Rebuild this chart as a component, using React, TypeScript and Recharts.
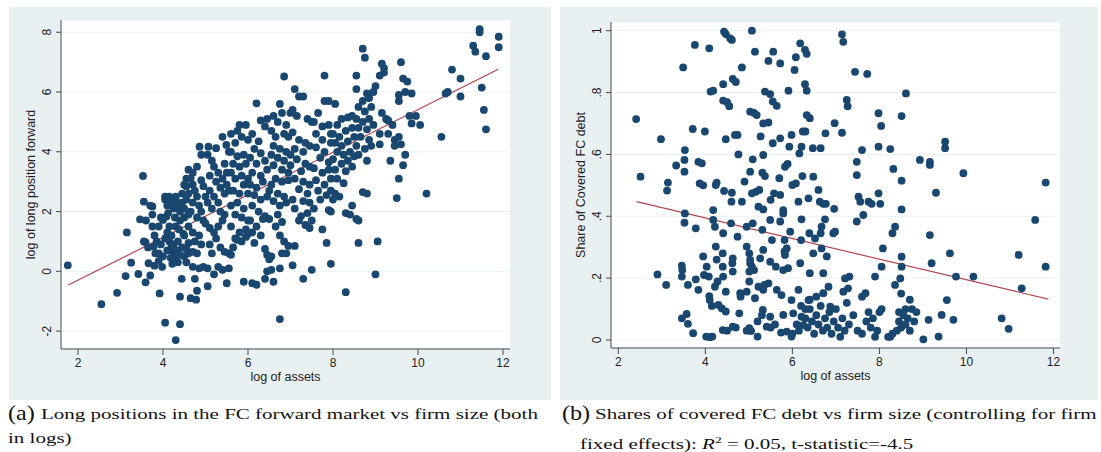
import React from 'react';
import { ScatterChart, Scatter, XAxis, YAxis, CartesianGrid, ReferenceLine } from 'recharts';

const assetsTicks = [2, 4, 6, 8, 10, 12];
const forwardTicks = [-2, 0, 2, 4, 6, 8];
const shareTicks = [0, 0.2, 0.4, 0.6, 0.8, 1];

const forwardPoints: [number, number][] = [
  [1.76,0.2],[2.55,-1.1],[2.92,-0.72],[3.15,1.3],[3.25,0.29],[3.12,-0.16],[3.42,-0.09],[3.53,3.19],[3.55,2.33],[3.46,1.74],[3.59,0.97],[3.59,-0.37],[3.66,0.27],[3.7,-0.14],[3.75,1.5],[3.75,2.17],[3.78,0.83],[3.82,0.6],[3.8,0.19],[3.92,-0.74],[4.05,-1.72],[4.3,-2.3],[4.4,-1.77],[4.4,-0.85],[4.44,-0.25],[3.98,0.15],[4.0,1.72],[4.08,1.83],
  [3.6,1.7],[3.7,2.2],[3.75,1.9],[3.8,1.2],[3.85,1.0],[3.9,1.5],[3.95,1.8],[3.9,0.35],[3.65,0.8],[3.55,1.0],
  [4.05,2.4],[4.1,2.2],[4.15,2.5],[4.2,2.3],[4.25,2.1],[4.3,2.4],[4.35,2.2],[4.4,2.0],[4.45,2.3],[4.5,2.1],[4.1,1.3],[4.15,1.0],[4.2,0.8],[4.25,0.6],[4.3,0.4],[4.35,0.3],[4.1,0.7],[4.0,0.5],[4.2,1.2],[4.3,1.5],[4.4,1.7],[4.5,1.8],[4.6,1.9],[4.35,1.0],[4.45,0.8],[4.5,0.5],[4.55,0.3],[4.4,0.55],[4.25,0.9],[4.15,1.5],[4.05,1.1],[3.95,0.9],[3.9,0.6],[4.6,0.6],[4.7,0.65],[4.05,2.5],[4.2,2.45],[4.3,2.5],[4.45,2.6],[4.5,2.9],[4.55,3.1],[4.12,1.95],[4.28,1.8],[4.38,1.4],[4.48,1.25],[4.22,0.25],[4.32,0.7],[4.18,0.45],
  [4.86,4.17],[4.6,3.4],[4.65,3.1],[4.7,2.9],[4.55,2.85],[4.6,2.6],[4.75,2.7],[4.8,2.5],[4.55,2.4],[4.7,2.3],[4.85,2.2],[4.9,2.0],[4.65,2.0],[4.8,1.8],[4.95,1.7],[4.6,1.5],[4.7,1.3],[4.85,1.2],[4.75,1.0],[4.9,0.9],[4.6,0.95],[4.8,0.6],[4.7,0.15],[4.85,0.1],[4.75,-0.25],[4.65,-0.9],[4.78,-0.95],[4.8,-0.65],[4.95,0.15],[4.5,1.2],[4.55,0.75],[4.9,3.05],[4.95,2.85],[5.0,2.5],[4.9,3.9],[4.8,3.5],[4.7,3.3],
  [5.07,4.17],[5.25,4.12],[5.4,4.5],[5.49,4.23],[5.05,3.9],[5.15,3.7],[5.2,3.5],[5.3,3.3],[5.1,3.2],[5.25,3.0],[5.4,3.1],[5.35,2.8],[5.1,2.7],[5.2,2.5],[5.3,2.3],[5.45,2.6],[5.05,2.3],[5.15,2.1],[5.35,2.0],[5.45,1.9],[5.0,1.6],[5.1,1.45],[5.2,1.3],[5.3,1.5],[5.4,1.7],[5.25,1.1],[5.1,0.9],[5.35,0.8],[5.15,0.6],[5.05,0.1],[5.3,0.15],[5.2,-0.1],[5.4,0.05],[5.45,0.65],[5.55,0.6],[5.5,-0.4],[5.05,-0.5],[5.5,2.9],[5.55,2.7],[5.5,3.3],[5.45,3.6],[5.55,4.0],
  [5.75,4.7],[5.8,4.9],[5.95,4.9],[5.6,4.6],[5.85,4.5],[5.7,4.3],[6.0,4.4],[5.6,4.0],[5.75,3.85],[5.9,3.9],[5.65,3.6],[5.8,3.5],[5.95,3.6],[5.6,3.3],[5.7,3.1],[5.85,3.2],[6.0,3.1],[5.9,2.9],[5.65,2.7],[5.8,2.6],[6.0,2.6],[5.6,2.2],[5.75,2.3],[5.9,2.1],[5.7,1.9],[5.85,1.8],[6.0,1.7],[5.6,1.5],[5.8,1.3],[5.95,1.4],[5.7,1.1],[5.85,1.0],[5.65,0.8],[5.6,0.55],[5.95,1.15],[5.9,-0.35],[6.1,-0.4],[5.55,0.1],[5.75,1.05],[6.0,1.25],
  [6.2,5.62],[6.1,4.6],[6.25,4.35],[6.4,4.85],[6.3,5.05],[6.45,5.1],[6.15,4.1],[6.3,3.95],[6.05,3.8],[6.2,3.6],[6.4,3.7],[6.1,3.3],[6.3,3.2],[6.45,3.4],[6.05,2.9],[6.2,2.8],[6.35,3.0],[6.5,2.7],[6.15,2.55],[6.3,2.4],[6.45,2.5],[6.1,2.2],[6.25,2.0],[6.4,1.85],[6.05,1.7],[6.2,1.5],[6.35,1.75],[6.1,1.3],[6.3,1.2],[6.5,1.75],[6.15,0.95],[6.4,0.75],[6.45,0.55],[6.5,0.4],[6.45,0.0],[6.55,0.05],[6.4,-0.25],[6.6,-0.35],[6.2,-0.45],
  [6.85,6.52],[6.75,5.6],[6.8,5.3],[6.6,5.2],[6.7,5.0],[6.9,4.9],[7.0,5.3],[6.55,4.7],[6.65,4.5],[6.85,4.6],[6.95,4.5],[6.6,4.2],[6.75,4.1],[6.9,4.0],[6.55,3.9],[6.7,3.8],[6.85,3.7],[7.0,3.9],[6.6,3.55],[6.8,3.4],[6.95,3.3],[6.65,3.1],[6.8,3.0],[6.95,3.05],[6.55,2.9],[6.7,2.6],[6.85,2.5],[6.6,2.35],[6.75,2.2],[6.9,2.3],[6.7,1.9],[6.8,1.65],[6.65,1.5],[6.75,1.2],[6.85,1.0],[6.95,0.85],[6.8,0.6],[6.9,0.6],[6.75,0.1],[6.75,-1.6],[7.05,0.2],[6.55,0.5],
  [7.1,6.1],[7.2,5.85],[7.3,5.85],[7.05,5.4],[7.15,5.2],[7.4,5.1],[7.5,5.0],[7.05,4.65],[7.2,4.4],[7.35,4.3],[7.1,4.1],[7.3,4.0],[7.45,4.2],[7.15,3.75],[7.35,3.6],[7.0,3.55],[7.25,3.35],[7.45,3.5],[7.1,3.1],[7.3,3.0],[7.45,2.9],[7.2,2.75],[7.4,2.6],[7.05,2.4],[7.3,2.35],[7.45,2.3],[7.1,2.1],[7.25,1.85],[7.4,1.95],[7.2,1.7],[7.35,1.55],[7.5,1.7],[7.45,1.45],[7.3,-0.25],[7.5,0.05],[7.1,0.85],
  [7.8,6.55],[7.8,5.7],[7.9,5.7],[7.65,5.3],[7.55,5.0],[7.75,4.85],[7.9,4.9],[7.6,4.6],[7.75,4.4],[7.95,4.6],[7.6,4.15],[7.8,4.0],[7.95,4.3],[7.7,3.8],[7.9,3.65],[7.55,3.45],[7.75,3.3],[7.9,3.4],[7.6,3.05],[7.8,2.9],[7.95,3.1],[7.65,2.7],[7.85,2.55],[7.7,2.4],[7.9,2.05],[7.95,2.0],[7.75,1.4],[7.85,0.95],[7.95,0.25],[7.55,2.1],[8.0,2.4],[7.95,2.7],
  [8.05,5.6],[8.1,4.9],[8.2,5.1],[8.35,5.15],[8.45,5.2],[8.0,4.6],[8.15,4.5],[8.3,4.7],[8.45,4.8],[8.05,4.3],[8.2,4.2],[8.35,4.35],[8.5,4.5],[8.1,4.0],[8.25,3.9],[8.4,4.0],[8.0,3.75],[8.2,3.6],[8.35,3.7],[8.5,3.85],[8.05,3.4],[8.3,3.35],[8.45,3.5],[8.1,3.1],[8.25,2.95],[8.05,2.6],[8.15,2.5],[8.45,2.2],[8.3,1.95],[8.4,1.9],[8.55,1.75],[8.6,1.7],[8.6,0.95],[8.3,-0.7],
  [8.7,7.45],[8.75,7.15],[8.55,6.55],[8.55,6.1],[8.7,5.7],[8.8,5.95],[8.85,5.8],[8.6,5.5],[8.75,5.35],[8.9,5.5],[8.55,5.1],[8.7,5.0],[8.85,5.1],[8.6,4.8],[8.8,4.75],[8.95,4.9],[8.65,4.5],[8.85,4.4],[8.55,4.2],[8.75,4.1],[8.9,4.2],[8.6,3.9],[8.8,3.7],[8.7,2.65],[8.8,2.6],[8.95,6.0],[9.0,6.2],
  [9.15,6.95],[9.2,6.8],[9.1,6.55],[9.2,6.65],[9.15,5.3],[9.3,5.05],[9.25,5.1],[9.4,4.9],[9.1,4.6],[9.1,4.25],[9.05,1.0],[9.0,-0.1],[9.3,4.6],[9.45,4.4],[9.45,4.2],[9.35,3.7],[9.5,2.45],
  [9.6,7.0],[9.65,6.45],[9.75,6.35],[9.55,5.9],[9.55,5.7],[9.7,6.0],[9.85,5.95],[9.8,5.2],[9.85,4.95],[9.95,5.2],[10.05,4.9],[9.55,4.5],[9.6,4.25],[9.55,3.1],[9.65,3.55],[9.7,3.9],
  [10.2,2.6],[10.55,4.5],[10.65,5.95],[10.7,6.0],[10.8,6.75],[11.0,6.45],[11.0,5.85],[11.3,7.55],[11.35,7.35],[11.45,8.0],[11.45,8.1],[11.5,6.15],[11.55,5.4],[11.6,7.2],[11.6,4.75],[11.9,7.85],[11.9,7.5],
];

const sharePoints: [number, number][] = [
  [2.41,0.714],[2.51,0.528],[2.98,0.649],[2.9,0.212],[3.1,0.178],[3.14,0.509],[3.12,0.483],[3.33,0.564],[3.49,0.881],[3.53,0.614],[3.52,0.582],[3.52,0.544],[3.53,0.409],[3.52,0.379],[3.46,0.07],[3.57,0.084],[3.6,0.052],[3.6,0.178],[3.46,0.24],[3.47,0.226],[3.46,0.205],[3.72,0.022],[3.76,0.954],[3.71,0.682],[3.78,0.361],[3.78,0.196],[3.84,0.162],[3.84,0.576],[3.92,0.571],[3.87,0.506],[3.95,0.5],[3.97,0.21],[3.99,0.674],[4.09,0.943],[3.95,0.27],[4.03,0.237],[4.08,0.205],[4.09,0.142],[4.1,0.129],[4.15,0.11],[4.02,0.011],[4.1,0.009],[4.16,0.011],[4.18,0.388],[4.18,0.42],[4.22,0.366],[4.12,0.803],[4.18,0.806],[4.24,0.501],[4.26,0.509],[4.24,0.302],[4.26,0.26],[4.22,0.172],[4.28,0.189],[4.3,0.113],[4.38,0.102],
  [4.41,0.774],[4.5,0.769],[4.55,0.756],[4.41,0.827],[4.43,0.997],[4.47,0.989],[4.57,0.975],[4.61,0.97],[4.47,0.649],[4.43,0.482],[4.41,0.345],[4.4,0.28],[4.4,0.237],[4.41,0.205],[4.47,0.156],[4.47,0.092],[4.4,0.032],[4.59,0.377],[4.61,0.476],[4.6,0.447],[4.63,0.264],[4.62,0.248],[4.63,0.221],[4.63,0.043],[4.68,0.663],[4.74,0.663],[4.63,0.844],[4.7,0.834],[4.76,0.6],[4.74,0.334],[4.8,0.151],[4.81,0.14],[4.78,0.086],[4.84,0.881],[4.84,0.447],[4.9,0.512],[4.95,0.366],[4.95,0.302],[5.01,0.28],[5.01,0.221],[5.01,0.189],[4.95,0.156],[5.01,0.038],[5.05,0.029],
  [5.07,1.0],[5.03,0.738],[5.12,0.734],[5.03,0.544],[5.09,0.584],[5.07,0.474],[5.09,0.377],[5.03,0.259],[5.03,0.248],[5.07,0.237],[5.12,0.226],[5.14,0.932],[5.18,0.727],[5.16,0.479],[5.22,0.431],[5.27,0.658],[5.24,0.485],[5.2,0.011],[5.14,0.135],[5.22,0.172],[5.26,0.264],[5.33,0.7],[5.45,0.703],[5.31,0.541],[5.37,0.53],[5.33,0.598],[5.33,0.422],[5.31,0.356],[5.33,0.291],[5.36,0.178],[5.33,0.162],[5.32,0.097],[5.41,0.043],[5.45,0.902],[5.5,0.453],[5.49,0.388],[5.53,0.323],[5.49,0.253],[5.45,0.183],[5.49,0.075],[5.56,0.932],[5.72,0.894],[5.37,0.803],[5.49,0.795],[5.55,0.771],[5.64,0.757],[5.55,0.636],[5.58,0.474],[5.62,0.237],[5.64,0.162],
  [5.72,0.652],[5.7,0.523],[5.72,0.469],[5.79,0.42],[5.79,0.409],[5.72,0.383],[5.82,0.323],[5.87,0.296],[5.82,0.286],[5.83,0.275],[5.79,0.226],[5.9,0.232],[5.75,0.145],[5.74,0.024],[5.87,0.027],[5.79,0.081],[5.83,0.56],[5.89,0.569],[5.91,0.806],[5.93,0.625],[5.95,0.35],[5.98,0.663],[6.0,0.501],[6.05,0.873],[6.08,0.914],[5.98,0.129],[5.98,0.011],[6.02,0.086],[6.08,0.506],[6.14,0.447],[6.16,0.603],[6.18,0.959],[6.23,0.53],[6.21,0.625],[6.24,0.674],[6.2,0.323],[6.21,0.39],[6.18,0.248],[6.14,0.162],[6.21,0.075],[6.25,0.048],
  [6.29,0.827],[6.33,0.806],[6.29,0.938],[6.33,0.925],[6.33,0.727],[6.3,0.674],[6.4,0.717],[6.37,0.458],[6.39,0.345],[6.4,0.216],[6.37,0.129],[6.48,0.528],[6.47,0.62],[6.52,0.328],[6.48,0.28],[6.6,0.485],[6.65,0.62],[6.63,0.447],[6.71,0.44],[6.67,0.366],[6.65,0.345],[6.67,0.296],[6.71,0.216],[6.71,0.151],[6.77,0.44],[6.76,0.668],[6.75,0.39],[6.79,0.27],[6.83,0.172],[6.87,0.108],[6.94,0.345],[6.98,0.35],[6.96,0.424],[6.97,0.701],[7.14,0.988],[7.17,0.964],[7.14,0.67],[7.17,0.156],[7.21,0.199],[7.25,0.776],[7.27,0.756],[7.28,0.167],[7.31,0.205],
  [7.44,0.867],[7.72,0.86],[7.48,0.576],[7.48,0.533],[7.48,0.383],[7.52,0.463],[7.56,0.447],[7.6,0.614],[7.63,0.404],[7.6,0.14],[7.68,0.151],[7.75,0.447],[7.82,0.44],[7.98,0.733],[8.04,0.692],[7.98,0.625],[7.98,0.474],[8.02,0.44],[8.08,0.296],[8.05,0.237],[7.9,0.205],[8.25,0.617],[8.32,0.553],[8.36,0.366],[8.3,0.345],[8.36,0.178],[8.51,0.724],[8.51,0.515],[8.51,0.422],[8.51,0.269],[8.51,0.237],[8.48,0.199],[8.61,0.797],
  [9.16,0.576],[9.16,0.566],[8.93,0.582],[9.3,0.476],[9.16,0.339],[9.2,0.248],[9.51,0.641],[9.51,0.62],[9.62,0.28],[9.55,0.129],[9.43,0.081],[9.7,0.065],[9.76,0.205],[9.93,0.539],[10.16,0.205],[9.13,0.065],[9.36,0.011],[9.01,0.002],[10.81,0.07],[10.97,0.036],[11.2,0.275],[11.27,0.167],[11.58,0.388],[11.82,0.509],[11.82,0.237],
  [6.0,0.02],[6.1,0.05],[6.15,0.03],[6.3,0.07],[6.35,0.04],[6.4,0.1],[6.45,0.06],[6.5,0.02],[6.55,0.08],[6.6,0.05],[6.65,0.11],[6.7,0.03],[6.75,0.07],[6.8,0.04],[6.85,0.09],[6.9,0.02],[6.95,0.06],[7.0,0.1],[7.05,0.04],[7.1,0.01],[7.15,0.07],[7.2,0.03],[7.25,0.12],[7.3,0.05],[7.4,0.08],[7.5,0.03],[7.6,0.02],[7.7,0.06],[7.75,0.09],[7.8,0.04],[7.85,0.07],[7.9,0.01],[7.95,0.03],[8.0,0.09],[8.05,0.1],[8.2,0.01],[8.25,0.01],[8.3,0.02],[8.4,0.03],[8.45,0.06],[8.5,0.04],[8.55,0.08],[8.6,0.05],[8.65,0.07],[8.7,0.03],[8.75,0.1],[8.8,0.06],[8.85,0.09],[8.7,0.13],[8.6,0.1],[8.5,0.15],[8.45,0.09],[6.4,0.13],[6.55,0.14],[6.3,0.1],[6.2,0.11],[5.2,0.06],[5.6,0.05],[5.5,0.04],[5.3,0.08],[4.95,0.03],[4.7,0.04],[4.5,0.03],
];

const forwardFit = [{ x: 1.77, y: -0.46 }, { x: 11.89, y: 6.76 }];
const shareFit = [{ x: 2.42, y: 0.447 }, { x: 11.88, y: 0.132 }];

const DOT = '#1a476f';
const FIT = '#b0464d';
const AXIS = '#4a4a4a';
const TXT = '#222';
const SANS = '"Liberation Sans", Arial, Helvetica, sans-serif';
const BG = '#e9f0f2';

const fmtShare = (v: number) => (v === 0 ? '0' : v === 1 ? '1' : String(v).replace(/^0/, ''));

const RotTick = (props: any) => {
  const { x, y, payload, fmt } = props;
  return (
    <text x={x} y={y} transform={`rotate(-90 ${x} ${y})`} textAnchor="middle" fontSize={12} fill={TXT} fontFamily={SANS}>
      {fmt ? fmt(payload.value) : String(payload.value)}
    </text>
  );
};

const Dot = (p: any) => <circle cx={p.cx} cy={p.cy} r={3.9} fill={DOT} />;

function Panel(props: {
  data: { x: number; y: number }[];
  fit: { x: number; y: number }[];
  xDomain: [number, number];
  yDomain: [number, number];
  yTicks: number[];
  yFmt?: (v: number) => string;
  yTitle: string;
  margin: { top: number; right: number; bottom: number; left: number };
}) {
  return (
    <ScatterChart width={551} height={400} margin={props.margin} style={{ background: 'transparent' }}>
      <CartesianGrid vertical={false} stroke="#eaf1f3" fill="#ffffff" />
      <XAxis
        type="number"
        dataKey="x"
        domain={props.xDomain}
        ticks={assetsTicks}
        allowDataOverflow
        height={40}
        tickSize={6}
        tickMargin={3}
        axisLine={{ stroke: AXIS }}
        tickLine={{ stroke: AXIS }}
        tick={{ fontSize: 12, fill: TXT, fontFamily: SANS }}
        label={{ value: 'log of assets', position: 'center', dy: 8, style: { fontSize: 12.5, fill: TXT, fontFamily: SANS } }}
      />
      <YAxis
        type="number"
        dataKey="y"
        domain={props.yDomain}
        ticks={props.yTicks}
        allowDataOverflow
        width={45}
        tickSize={5}
        tickMargin={5}
        axisLine={{ stroke: AXIS }}
        tickLine={{ stroke: AXIS }}
        tick={<RotTick fmt={props.yFmt} />}
        label={{ value: props.yTitle, angle: -90, position: 'center', dx: -8, style: { fontSize: 12.5, fill: TXT, fontFamily: SANS } }}
      />
      <Scatter data={props.data} shape={<Dot />} isAnimationActive={false} />
      <ReferenceLine
        segment={[props.fit[0], props.fit[1]]}
        stroke={FIT}
        strokeWidth={1.2}
        ifOverflow="visible"
      />
    </ScatterChart>
  );
}

const forwardData = forwardPoints.map(([x, y]) => ({ x, y }));
const shareData = sharePoints.map(([x, y]) => ({ x, y }));

const capStyle: React.CSSProperties = {
  position: 'absolute',
  fontFamily: '"Liberation Serif", "Times New Roman", serif',
  fontSize: 14,
  color: '#111',
  whiteSpace: 'nowrap',
  transformOrigin: 'left top',
  lineHeight: 1,
};

const STRETCH = 'scaleX(1.5)';

export default function App() {
  return (
    <div style={{ position: 'absolute', left: 0, top: 0, width: 1101, height: 452, background: '#fff', overflow: 'hidden' }}>
      <div style={{ position: 'absolute', left: 9, top: 7, width: 542, height: 393, background: BG }} />
      <div style={{ position: 'absolute', left: 560, top: 7, width: 538, height: 393, background: BG }} />
      <div style={{ position: 'absolute', left: 0, top: 0 }}>
        <Panel
          data={forwardData}
          fit={forwardFit}
          xDomain={[1.6, 12.165]}
          yDomain={[-2.6, 8.41]}
          yTicks={forwardTicks}
          yTitle="log of long position forward"
          margin={{ top: 20, right: 41, bottom: 11, left: 16 }}
        />
      </div>
      <div style={{ position: 'absolute', left: 551, top: 0 }}>
        <Panel
          data={shareData}
          fit={shareFit}
          xDomain={[1.832, 12.15]}
          yDomain={[-0.026, 1.028]}
          yTicks={shareTicks}
          yFmt={fmtShare}
          yTitle="Share of Covered FC debt"
          margin={{ top: 22, right: 42, bottom: 12, left: 15 }}
        />
      </div>
      <div style={{ ...capStyle, left: 8, top: 403, fontSize: 21, transform: 'scaleX(1.15)' }}>(a)</div>
      <div style={{ ...capStyle, left: 41, top: 408, transform: STRETCH }}>Long positions in the FC forward market vs firm size (both</div>
      <div style={{ ...capStyle, left: 8, top: 432, transform: STRETCH }}>in logs)</div>
      <div style={{ ...capStyle, left: 562, top: 403, fontSize: 21, transform: 'scaleX(1.15)' }}>(b)</div>
      <div style={{ ...capStyle, left: 595, top: 408, transform: STRETCH }}>Shares of covered FC debt vs firm size (controlling for firm</div>
      <div style={{ ...capStyle, left: 580, top: 436, transform: STRETCH }}>
        fixed effects): <i>R</i><sup style={{ fontSize: 9 }}>2</sup> = 0.05, t-statistic=-4.5
      </div>
    </div>
  );
}
